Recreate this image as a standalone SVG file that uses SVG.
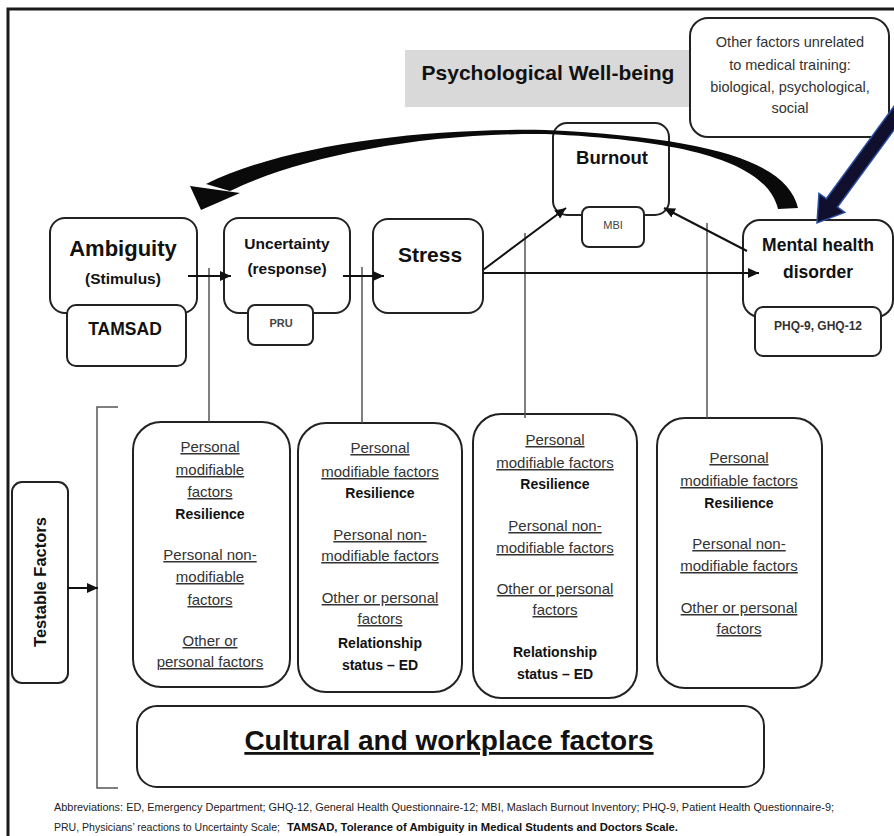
<svg xmlns="http://www.w3.org/2000/svg" width="894" height="836" viewBox="0 0 894 836">
<defs>
<style>
.box{fill:#fff;stroke:#222;stroke-width:2}
.sm{fill:#fff;stroke:#222;stroke-width:2}
.ln{stroke:#111;stroke-width:2;fill:none}
.vl{stroke:#555;stroke-width:1.5;fill:none}
text{font-family:"Liberation Sans",Arial,sans-serif;text-anchor:middle}
.u{font-size:15px;fill:#333;text-decoration:underline}
.b{font-weight:bold;fill:#111}
.r{font-size:14px}
.ab{font-size:11px;fill:#222;text-anchor:start}
</style>
<marker id="ah" markerUnits="userSpaceOnUse" markerWidth="11" markerHeight="10" refX="11" refY="5" orient="auto" viewBox="0 0 11 10">
<path d="M0,0 L11,5 L0,10 z" fill="#111"/>
</marker>
</defs>
<rect width="894" height="836" fill="#fff"/>
<path d="M8,836 L8,9 L894,9" fill="none" stroke="#1a1a1a" stroke-width="3"/>

<g id="wellbeing">
<rect x="405" y="50" width="285" height="57" fill="#d9d9d9"/>
<text x="548" y="80" class="b" style="font-size:21px">Psychological Well-being</text>
</g>

<g id="other-factors">
<rect x="690" y="18" width="199" height="119" rx="18" class="box"/>
<text x="790" y="47" style="font-size:14.5px;fill:#333">Other factors unrelated</text>
<text x="790" y="70" style="font-size:14.5px;fill:#333">to medical training:</text>
<text x="790" y="92" style="font-size:14.5px;fill:#333">biological, psychological,</text>
<text x="790" y="113" style="font-size:14.5px;fill:#333">social</text>
</g>

<g id="burnout">
<rect x="553" y="123" width="116" height="92" rx="14" class="box"/>
<text x="612" y="164" class="b" style="font-size:18.5px">Burnout</text>
</g>

<g id="ambiguity">
<rect x="50" y="218" width="147" height="95" rx="15" class="box"/>
<text x="123" y="256" class="b" style="font-size:22px">Ambiguity</text>
<text x="123" y="284" class="b" style="font-size:15.5px">(Stimulus)</text>
</g>
<g id="tamsad">
<rect x="67" y="305" width="119" height="61" rx="9" class="sm"/>
<text x="125" y="335" class="b" style="font-size:17.5px">TAMSAD</text>
</g>

<g id="uncertainty">
<rect x="224" y="218" width="126" height="95" rx="15" class="box"/>
<text x="287" y="249" class="b" style="font-size:15.5px">Uncertainty</text>
<text x="287" y="274" class="b" style="font-size:15.5px">(response)</text>
</g>
<g id="pru">
<rect x="248" y="305" width="65" height="40" rx="7" class="sm"/>
<text x="281" y="327" class="b" style="font-size:11px;fill:#444">PRU</text>
</g>

<g id="stress">
<rect x="373" y="219" width="110" height="94" rx="15" class="box"/>
<text x="430" y="262" class="b" style="font-size:21px">Stress</text>
</g>

<g id="mbi">
<rect x="582" y="207" width="62" height="40" rx="7" class="sm"/>
<text x="613" y="229" style="font-size:11px;fill:#444">MBI</text>
</g>

<g id="mental-health">
<rect x="743" y="220" width="150" height="97" rx="17" class="box"/>
<text x="818" y="251" class="b" style="font-size:17.5px">Mental health</text>
<text x="818" y="278" class="b" style="font-size:17.5px">disorder</text>
</g>
<g id="phq">
<rect x="755" y="307" width="126" height="49" rx="8" class="sm"/>
<text x="818" y="330" class="b" style="font-size:12px;fill:#333">PHQ-9, GHQ-12</text>
</g>

<g id="testable">
<rect x="12" y="482" width="56" height="201" rx="10" class="box"/>
<text transform="translate(46,582) rotate(-90)" class="b" style="font-size:16.5px">Testable Factors</text>
</g>

<g id="factors-1">
<rect x="133" y="422" width="157" height="265" rx="28" class="box"/>
<text x="210" y="452" class="u">Personal</text>
<text x="210" y="475" class="u">modifiable</text>
<text x="210" y="497" class="u">factors</text>
<text x="210" y="519" class="b r">Resilience</text>
<text x="210" y="560" class="u">Personal non-</text>
<text x="210" y="582" class="u">modifiable</text>
<text x="210" y="605" class="u">factors</text>
<text x="210" y="646" class="u">Other or</text>
<text x="210" y="667" class="u">personal factors</text>
</g>

<g id="factors-2">
<rect x="298" y="423" width="164" height="269" rx="28" class="box"/>
<text x="380" y="453" class="u">Personal</text>
<text x="380" y="477" class="u">modifiable factors</text>
<text x="380" y="498" class="b r">Resilience</text>
<text x="380" y="540" class="u">Personal non-</text>
<text x="380" y="561" class="u">modifiable factors</text>
<text x="380" y="603" class="u">Other or personal</text>
<text x="380" y="624" class="u">factors</text>
<text x="380" y="648" class="b r">Relationship</text>
<text x="380" y="670" class="b r">status – ED</text>
</g>

<g id="factors-3">
<rect x="473" y="414" width="164" height="284" rx="28" class="box"/>
<text x="555" y="445" class="u">Personal</text>
<text x="555" y="468" class="u">modifiable factors</text>
<text x="555" y="489" class="b r">Resilience</text>
<text x="555" y="531" class="u">Personal non-</text>
<text x="555" y="553" class="u">modifiable factors</text>
<text x="555" y="594" class="u">Other or personal</text>
<text x="555" y="615" class="u">factors</text>
<text x="555" y="657" class="b r">Relationship</text>
<text x="555" y="679" class="b r">status – ED</text>
</g>

<g id="factors-4">
<rect x="657" y="418" width="165" height="270" rx="28" class="box"/>
<text x="739" y="463" class="u">Personal</text>
<text x="739" y="486" class="u">modifiable factors</text>
<text x="739" y="508" class="b r">Resilience</text>
<text x="739" y="549" class="u">Personal non-</text>
<text x="739" y="571" class="u">modifiable factors</text>
<text x="739" y="613" class="u">Other or personal</text>
<text x="739" y="634" class="u">factors</text>
</g>

<g id="cultural">
<rect x="137" y="706" width="627" height="81" rx="20" class="box"/>
<text x="449" y="750" class="b" style="font-size:28px;text-decoration:underline">Cultural and workplace factors</text>
</g>

<g id="connectors">
<path class="vl" d="M209,268 L209,422"/>
<path class="vl" d="M362,267 L362,423"/>
<path class="vl" d="M525,233 L525,418"/>
<path class="vl" d="M707,223 L707,418"/>
<path class="vl" d="M118,407 L97,407 L97,788 L118,788"/>
<path class="ln" d="M188,276 L231,276" marker-end="url(#ah)"/>
<path class="ln" d="M343,276 L384,276" marker-end="url(#ah)"/>
<path class="ln" d="M483,270 L566,208" marker-end="url(#ah)"/>
<path class="ln" d="M483,273 L759,273" marker-end="url(#ah)"/>
<path class="ln" d="M747,251 L664,208" marker-end="url(#ah)"/>
<path class="ln" d="M68,588 L98,588" marker-end="url(#ah)"/>
<path d="M798,208 C788,165 720,138 545,130 C420,128 285,145 206,184 L230,191 C300,157 420,133 545,134 C705,141 768,168 778,209 Z" fill="#0a0a0a"/>
<polygon points="190,186 240,193 201,210" fill="#0a0a0a"/>
<polygon points="905.6,114.2 837.5,207.1 844.8,212.4 817,223 819,193.4 826.3,198.7 894.4,105.8" fill="#10102e" stroke="#2b4ea0" stroke-width="1.5" stroke-linejoin="miter"/>
</g>

<g id="abbreviations">
<text x="54" y="811" textLength="780" lengthAdjust="spacingAndGlyphs" class="ab">Abbreviations: ED, Emergency Department; GHQ-12, General Health Questionnaire-12; MBI, Maslach Burnout Inventory; PHQ-9, Patient Health Questionnaire-9;</text>
<text x="54" y="831" textLength="226" lengthAdjust="spacingAndGlyphs" class="ab">PRU, Physicians’ reactions to Uncertainty Scale;</text>
<text x="287" y="831" textLength="391" lengthAdjust="spacingAndGlyphs" class="ab" style="font-weight:bold;fill:#111">TAMSAD, Tolerance of Ambiguity in Medical Students and Doctors Scale.</text>
</g>
</svg>
